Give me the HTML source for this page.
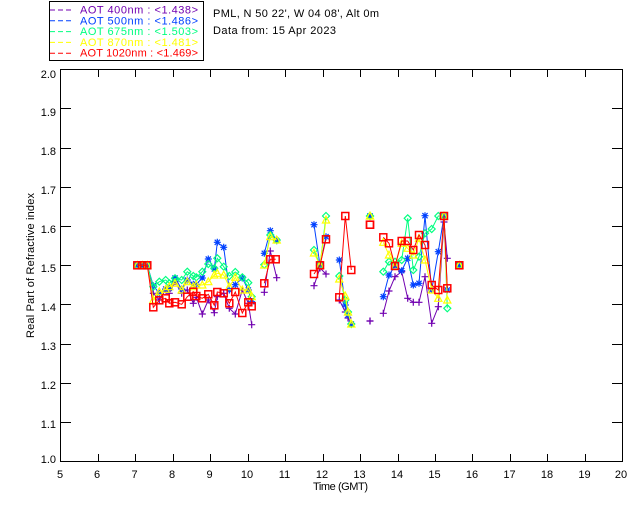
<!DOCTYPE html>
<html><head><meta charset="utf-8"><style>
html,body{margin:0;padding:0;background:#fff;}
svg{display:block;}
text{font-family:"Liberation Sans",sans-serif;font-size:11px;}
</style></head><body>
<svg width="640" height="512" viewBox="0 0 640 512" xmlns="http://www.w3.org/2000/svg">
<defs>
<marker id="mp" markerUnits="userSpaceOnUse" markerWidth="12" markerHeight="12" refX="0" refY="0" overflow="visible"><path d="M-3.5,0H3.5M0,-3.5V3.5" stroke="#7000b0" stroke-width="1.2" fill="none"/></marker>
<marker id="mb" markerUnits="userSpaceOnUse" markerWidth="12" markerHeight="12" refX="0" refY="0" overflow="visible"><path d="M-3.5,0H3.5M0,-3.5V3.5M-2.6,-2.6L2.6,2.6M-2.6,2.6L2.6,-2.6" stroke="#0040ff" stroke-width="1.2" fill="none"/></marker>
<marker id="mg" markerUnits="userSpaceOnUse" markerWidth="12" markerHeight="12" refX="0" refY="0" overflow="visible"><path d="M0,-3.5L3.5,0L0,3.5L-3.5,0Z" stroke="#00ff80" stroke-width="1.2" fill="none"/></marker>
<marker id="my" markerUnits="userSpaceOnUse" markerWidth="12" markerHeight="12" refX="0" refY="0" overflow="visible"><path d="M0,-3.8L3.6,3L-3.6,3Z" stroke="#ffff00" stroke-width="1.2" fill="none"/></marker>
<marker id="mr" markerUnits="userSpaceOnUse" markerWidth="12" markerHeight="12" refX="0" refY="0" overflow="visible"><rect x="-3.5" y="-3.5" width="7" height="7" stroke="#ff0000" stroke-width="1.5" fill="none"/></marker>
</defs>

<!-- legend -->
<rect x="49.5" y="1.5" width="154" height="59" fill="none" stroke="#000" stroke-width="1"/>
<g stroke-width="1" stroke-dasharray="5,3">
<line x1="50" y1="10" x2="72" y2="10" stroke="#7000b0"/>
<line x1="50" y1="20.8" x2="72" y2="20.8" stroke="#0040ff"/>
<line x1="50" y1="31.6" x2="72" y2="31.6" stroke="#00ff80"/>
<line x1="50" y1="42.4" x2="72" y2="42.4" stroke="#ffff00"/>
<line x1="50" y1="53.2" x2="72" y2="53.2" stroke="#ff0000"/>
</g>
<g style="white-space:pre">
<text x="80" y="13.5" fill="#7000b0" textLength="118" lengthAdjust="spacing">AOT  400nm : &lt;1.438&gt;</text>
<text x="80" y="24.3" fill="#0040ff" textLength="118" lengthAdjust="spacing">AOT  500nm : &lt;1.486&gt;</text>
<text x="80" y="35.1" fill="#00ff80" textLength="118" lengthAdjust="spacing">AOT  675nm : &lt;1.503&gt;</text>
<text x="80" y="45.9" fill="#ffff00" textLength="118" lengthAdjust="spacing">AOT  870nm : &lt;1.481&gt;</text>
<text x="80" y="56.7" fill="#ff0000" textLength="118" lengthAdjust="spacing">AOT 1020nm : &lt;1.469&gt;</text>
</g>
<text x="213" y="17" fill="#000" textLength="166" lengthAdjust="spacing">PML, N 50 22', W 04 08', Alt 0m</text>
<text x="213" y="34" fill="#000" textLength="123" lengthAdjust="spacing">Data from: 15 Apr 2023</text>

<!-- axes box -->
<rect x="60.5" y="69.5" width="562" height="392" fill="none" stroke="#000" stroke-width="1"/>
<g stroke="#000" stroke-width="1">
<!-- x ticks bottom and top -->
<path d="M98.5,461.5V454M135.5,461.5V454M173.5,461.5V454M210.5,461.5V454M248.5,461.5V454M285.5,461.5V454M323.5,461.5V454M360.5,461.5V454M398.5,461.5V454M435.5,461.5V454M472.5,461.5V454M510.5,461.5V454M547.5,461.5V454M585.5,461.5V454"/>
<path d="M98.5,69.5V77M135.5,69.5V77M173.5,69.5V77M210.5,69.5V77M248.5,69.5V77M285.5,69.5V77M323.5,69.5V77M360.5,69.5V77M398.5,69.5V77M435.5,69.5V77M472.5,69.5V77M510.5,69.5V77M547.5,69.5V77M585.5,69.5V77"/>
<!-- y ticks left and right -->
<path d="M60.5,422.5H71M60.5,383.5H71M60.5,344.5H71M60.5,304.5H71M60.5,265.5H71M60.5,226.5H71M60.5,187.5H71M60.5,148.5H71M60.5,108.5H71"/>
<path d="M622.5,422.5H612M622.5,383.5H612M622.5,344.5H612M622.5,304.5H612M622.5,265.5H612M622.5,226.5H612M622.5,187.5H612M622.5,148.5H612M622.5,108.5H612"/>
</g>
<!-- y labels -->
<g fill="#000" text-anchor="end">
<text x="56" y="78">2.0</text>
<text x="56" y="116">1.9</text>
<text x="56" y="155">1.8</text>
<text x="56" y="194">1.7</text>
<text x="56" y="233">1.6</text>
<text x="56" y="272">1.5</text>
<text x="56" y="311">1.4</text>
<text x="56" y="350">1.3</text>
<text x="56" y="389">1.2</text>
<text x="56" y="428">1.1</text>
<text x="56" y="463">1.0</text>
</g>
<!-- x labels -->
<g fill="#000" text-anchor="middle">
<text x="60" y="478">5</text>
<text x="97" y="478">6</text>
<text x="134.5" y="478">7</text>
<text x="172" y="478">8</text>
<text x="209.5" y="478">9</text>
<text x="247" y="478">10</text>
<text x="284.5" y="478">11</text>
<text x="322" y="478">12</text>
<text x="359.5" y="478">13</text>
<text x="397" y="478">14</text>
<text x="434.5" y="478">15</text>
<text x="472" y="478">16</text>
<text x="509.5" y="478">17</text>
<text x="547" y="478">18</text>
<text x="584.5" y="478">19</text>
<text x="621" y="478">20</text>
</g>
<text x="313" y="490" fill="#000" textLength="55" lengthAdjust="spacing">Time (GMT)</text>
<text transform="translate(34,265.5) rotate(-90)" text-anchor="middle" fill="#000" textLength="145" lengthAdjust="spacing">Real Part of Refractive index</text>

<!-- PURPLE 400nm -->
<g fill="none" stroke="#7000b0" stroke-width="1" marker-start="url(#mp)" marker-mid="url(#mp)" marker-end="url(#mp)">
<polyline points="137.3,265.3 142.3,265.3 147.3,265.3 153.3,293.3 159.3,300 165.7,290 169.3,293.3 175,281.7 181.7,293.3 187.3,290 193.3,303.3 196.3,297.3 202.3,314 208.3,300 214.3,312.7 217.3,296.7 223.7,293.3 229.3,308.3 235.3,314 242.3,290 248.3,303.3 251.7,324.7"/>
<polyline points="264.3,292.3 270.3,251 276.7,277.7"/>
<polyline points="314,285.7 320,268 326,274"/>
<polyline points="339.3,300 345.3,312 348,318 351.3,324"/>
<polyline points="370,321 370,321"/>
<polyline points="383.3,313.3 389,291 395,276.7 401.7,271.7 407.7,298.3 413.3,302.3 419,302.3 425,276.7 431.7,323.3 438.3,306.7 444,222 447.3,258.3"/>
<polyline points="459.3,265.3 459.3,265.3"/>
</g>
<!-- BLUE 500nm -->
<g fill="none" stroke="#0040ff" stroke-width="1" marker-start="url(#mb)" marker-mid="url(#mb)" marker-end="url(#mb)">
<polyline points="137.3,265.3 142.3,265.3 147.3,265.3 153.3,285.7 159.3,293.3 165.7,289 169.3,288.3 175,278 181.7,289 187.3,280 193.3,284.3 196.3,284.3 202.3,278 208.3,259 214.3,269 217.3,242.3 223.7,247.3 229.3,290 235.3,284.7 242.3,278 248.3,290 251.7,301.7"/>
<polyline points="264.3,253.3 270.3,230.7 276.7,240.7"/>
<polyline points="314,224.7 320,265.3 326,236.7"/>
<polyline points="339.3,260 345.3,305 348,315 351.3,324"/>
<polyline points="370,216 370,216"/>
<polyline points="383.3,296.7 389,275 395,266 401.7,270.7 407.7,258.3 413.3,285 419,283.3 425,215.7 431.7,290 438.3,251.7 444,216 447.3,290"/>
<polyline points="459.3,265.3 459.3,265.3"/>
</g>
<!-- GREEN 675nm -->
<g fill="none" stroke="#00ff80" stroke-width="1" marker-start="url(#mg)" marker-mid="url(#mg)" marker-end="url(#mg)">
<polyline points="137.3,265.3 142.3,265.3 147.3,265.3 153.3,286.7 159.3,281.7 165.7,280 169.3,283.3 175,278.3 181.7,280 187.3,271.7 193.3,276 196.3,277.3 202.3,271.7 208.3,264 214.3,268.3 217.3,258.3 223.7,266.7 229.3,276 235.3,272 242.3,277.3 248.3,282.7 251.7,296.7"/>
<polyline points="264.3,264.7 270.3,235 276.7,240"/>
<polyline points="314,250 320,265.3 326,216"/>
<polyline points="339.3,276 345.3,300 348,312 351.3,324"/>
<polyline points="370,216 370,216"/>
<polyline points="383.3,271.7 389,261.7 395,261.7 401.7,260 407.7,218.3 413.3,270 419,256.7 425,233.3 431.7,229 438.3,216 444,216 447.3,308.3"/>
<polyline points="459.3,265.3 459.3,265.3"/>
</g>
<!-- YELLOW 870nm -->
<g fill="none" stroke="#ffff00" stroke-width="1" marker-start="url(#my)" marker-mid="url(#my)" marker-end="url(#my)">
<polyline points="137.3,265.3 142.3,265.3 147.3,265.3 153.3,300 159.3,291.7 165.7,289.3 169.3,286.7 175,283.3 181.7,290 187.3,281.7 193.3,286.7 196.3,285 202.3,285 208.3,281.7 214.3,275 217.3,273.3 223.7,275 229.3,286.7 235.3,277.3 242.3,290 248.3,290 251.7,296.7"/>
<polyline points="264.3,265 270.3,236.7 276.7,240"/>
<polyline points="314,253 320,265.3 326,220"/>
<polyline points="339.3,279 345.3,296 348,312 351.3,324"/>
<polyline points="370,216 370,216"/>
<polyline points="383.3,242.3 389,255 395,266 401.7,243.3 407.7,248.3 413.3,255 419,238.3 425,260 431.7,290 438.3,298.3 444,216 447.3,300"/>
<polyline points="459.3,265.3 459.3,265.3"/>
</g>
<!-- RED 1020nm -->
<g fill="none" stroke="#ff0000" stroke-width="1" marker-start="url(#mr)" marker-mid="url(#mr)" marker-end="url(#mr)">
<polyline points="137.3,265.3 142.3,265.3 147.3,265.3 153.3,307.3 159.3,300.3 165.7,298.3 169.3,303.3 175,302.3 181.7,304.3 187.3,296.7 193.3,291.7 196.3,296 202.3,298.3 208.3,294.3 214.3,305.3 217.3,292 223.7,293.3 229.3,303.3 235.3,292 242.3,313 248.3,302.3 251.7,306.3"/>
<polyline points="264.3,283.3 270.3,259.3 275.7,259.3"/>
<polyline points="314,274 320,265.3 326,239.3"/>
<polyline points="339.3,297.3 345.3,216 351.3,270"/>
<polyline points="370,224.7 370,224.7"/>
<polyline points="383.3,237.3 389,243.3 395,266 401.7,241 407.7,241 413.3,250 419,235 425,245 431.7,285 438.3,290 444,216 447.3,288.3"/>
<polyline points="459.3,265.3 459.3,265.3"/>
</g>
</svg>
</body></html>
